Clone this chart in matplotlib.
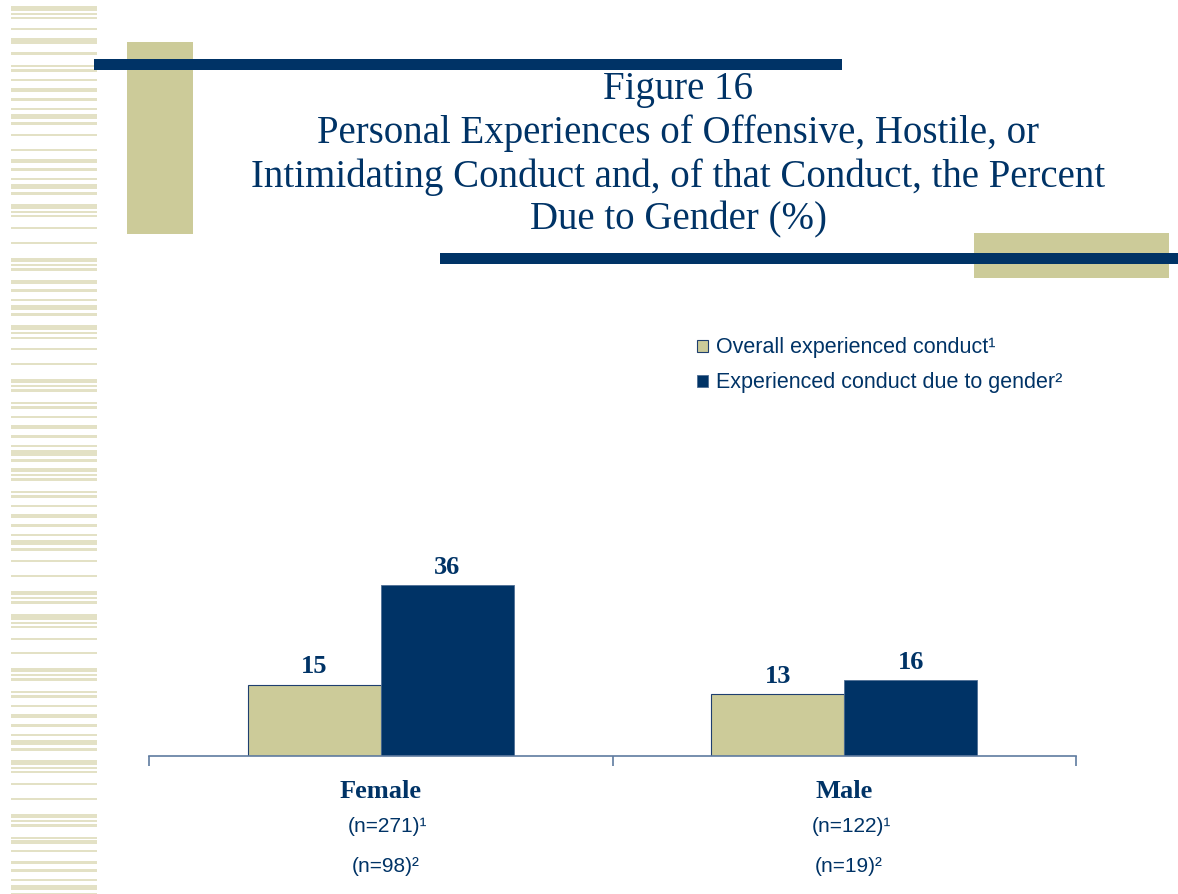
import matplotlib
matplotlib.use("Agg")
import matplotlib.pyplot as plt
from matplotlib.patches import Rectangle
import numpy as np

# data
groups = ["Female", "Male"]
overall = [15, 13]
due_to_gender = [36, 16]
n_overall = ["(n=271)¹", "(n=122)¹"]
n_gender = ["(n=98)²", "(n=19)²"]
series_names = ["Overall experienced conduct¹", "Experienced conduct due to gender²"]
title_lines = ["Figure 16",
               "Personal Experiences of Offensive, Hostile, or",
               "Intimidating Conduct and, of that Conduct, the Percent",
               "Due to Gender (%)"]

NAVY = "#003366"
KHAKI = "#CCCB99"
STRIPE = "#E3E1C5"
SERIF = ["Liberation Serif", "DejaVu Serif"]
SANS = ["Liberation Sans", "DejaVu Sans"]

W, H = 1178, 894
fig = plt.figure(figsize=(W / 100, H / 100), dpi=100)

# background layer in pixel units for the slide decoration
bg = fig.add_axes([0, 0, 1, 1])
bg.set_xlim(0, W)
bg.set_ylim(H, 0)
bg.axis("off")

# barcode stripes down the left edge
stripes = [(6, 11), (13, 15), (17, 19), (28, 30), (38, 44), (52, 55), (65, 67), (69, 72),
           (79, 81), (88, 92), (98, 101), (108, 110), (114, 119), (122, 125), (134, 136),
           (149, 151), (159, 163), (168, 171), (178, 180), (184, 189), (192, 195), (204, 209),
           (211, 213), (215, 217), (227, 229), (242, 244), (258, 262), (264, 266), (268, 271),
           (280, 284), (289, 292), (299, 301), (305, 310), (313, 316), (325, 330), (332, 334),
           (337, 339), (348, 350), (363, 365), (379, 383), (385, 387), (389, 392), (402, 404),
           (406, 409), (416, 418), (425, 429), (435, 438), (445, 447), (450, 456), (459, 462),
           (468, 472), (474, 476), (478, 481), (491, 493), (495, 498), (505, 507), (514, 518),
           (524, 527), (534, 536), (540, 545), (548, 551), (560, 562), (575, 577), (591, 595),
           (597, 599), (601, 604), (614, 620), (622, 624), (626, 628), (638, 640), (652, 654),
           (668, 672), (674, 676), (678, 681), (691, 693), (695, 698), (705, 707), (714, 718),
           (724, 727), (734, 736), (740, 745), (748, 751), (760, 765), (767, 769), (771, 773),
           (783, 785), (798, 800), (814, 818), (820, 822), (824, 827), (837, 839), (840, 844),
           (850, 852), (861, 864), (869, 872), (879, 881), (885, 890), (893, 894)]
for a, b in stripes:
    bg.add_patch(Rectangle((11, a), 86, b - a, color=STRIPE, lw=0))

# khaki blocks and navy rules around the title
bg.add_patch(Rectangle((127, 42), 66, 192, color=KHAKI, lw=0))
bg.add_patch(Rectangle((974, 233), 195, 45, color=KHAKI, lw=0))
bg.add_patch(Rectangle((94, 59), 748, 11, color=NAVY, lw=0, zorder=3))
bg.add_patch(Rectangle((440, 253), 738, 11, color=NAVY, lw=0, zorder=3))

for y, line in zip([99, 143, 187, 229], title_lines):
    bg.text(678, y, line, ha="center", va="baseline", fontsize=28,
            family=SERIF, color=NAVY)

# chart
ax = fig.add_axes([149 / W, (H - 756) / H, (1076 - 149) / W, 190.4 / H])
ax.patch.set_alpha(0)
x = np.arange(len(groups))
bw = 0.287
b1 = ax.bar(x - bw / 2, overall, bw, color=KHAKI, edgecolor="#1F3F6F", lw=0.8,
            label=series_names[0])
b2 = ax.bar(x + bw / 2, due_to_gender, bw, color=NAVY, edgecolor="#4F6F95", lw=0.6,
            label=series_names[1])
for bars in (b1, b2):
    for r in bars:
        ax.annotate(f"{r.get_height():g}", (r.get_x() + r.get_width() / 2, r.get_height()),
                    xytext=(0, 8), textcoords="offset points", ha="center", va="baseline",
                    fontsize=19, fontweight="bold", family=SERIF, color=NAVY)

ax.set_xlim(-0.5, len(groups) - 0.5)
ax.set_ylim(0, 40)
for s in ("top", "right", "left"):
    ax.spines[s].set_visible(False)
ax.spines["bottom"].set_color("#5F7BA0")
ax.spines["bottom"].set_linewidth(1.2)
ax.set_yticks([])
ax.set_xticks(np.arange(-0.5, len(groups), 1.0))
ax.set_xticklabels([])
ax.tick_params(axis="x", length=7, width=1.2, color="#5F7BA0", direction="out")

xt = ax.get_xaxis_transform()
for i, g in enumerate(groups):
    ax.text(i, -0.185, g, transform=xt, ha="center", va="center",
            fontsize=19, fontweight="bold", family=SERIF, color=NAVY)
    ax.text(i + 0.015, -0.372, n_overall[i], transform=xt,
            ha="center", va="center", fontsize=15, family=SANS, color=NAVY)
    ax.text(i + 0.01, -0.578, n_gender[i], transform=xt,
            ha="center", va="center", fontsize=15, family=SANS, color=NAVY)

fig.legend(handles=[b1, b2], loc="upper left", bbox_to_anchor=(678 / W, 1 - 318 / H),
           frameon=False, handlelength=0.5, handleheight=0.5, handletextpad=0.37,
           labelspacing=0.65, prop={"family": SANS, "size": 15.5}, labelcolor=NAVY)

fig.savefig("out.png", dpi=100)
